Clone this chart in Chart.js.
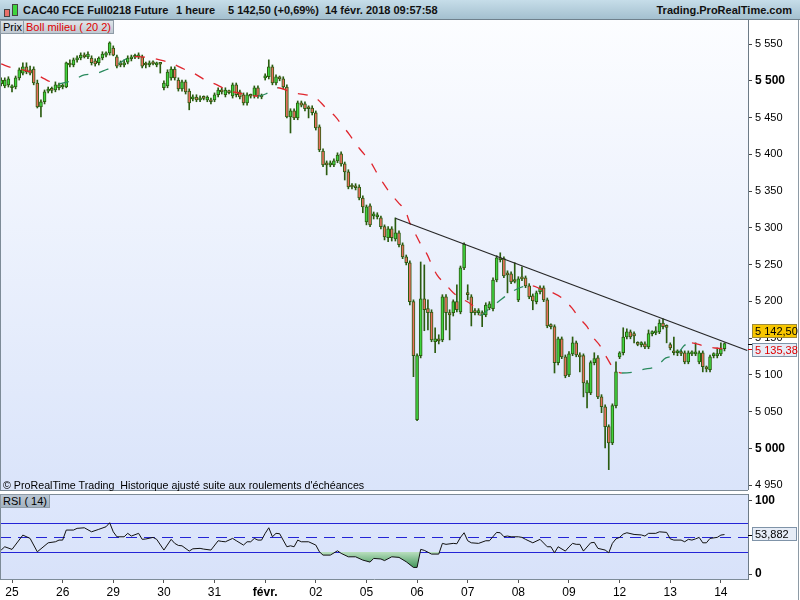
<!DOCTYPE html>
<html>
<head>
<meta charset="utf-8">
<script src="https://cdn.jsdelivr.net/npm/chart.js@4.4.1/dist/chart.umd.min.js"></script>
<style>
  body { margin: 0; width: 800px; height: 600px; overflow: hidden; background: #fff; position: relative;
         font-family: "Liberation Sans", Arial, sans-serif; }
  #hdr { position: absolute; left: 0; top: 0; width: 800px; height: 19px; background: linear-gradient(#c6dde9, #a4c0cf);
         border-bottom: 1px solid #6f808c; font-size: 11px; font-weight: bold; color: #111; }
  #hdr span { position: absolute; top: 4px; white-space: nowrap; }
  .ico { position: absolute; border: 1px solid #444; }
  canvas { position: absolute; left: 0; }
  #cPrice { top: 20px; }
  #cRsi { top: 490px; }
  #edge { position: absolute; left: 798px; top: 20px; width: 1px; height: 580px; background: #8e9ba6; }
  .tag { position: absolute; height: 12px; line-height: 12px; font-size: 11px; padding: 0 2px; white-space: nowrap;
         background: linear-gradient(#dfe5ea, #bfc8d1); border: 1px solid #8e9ba6; color: #000; }
  #foot { position: absolute; left: 3px; top: 479px; font-size: 10.7px; color: #000; white-space: nowrap; }
</style>
</head>
<body>
<div id="hdr">
  <div class="ico" style="left:4px;top:9px;width:4px;height:6px;background:#e8706a"></div>
  <div class="ico" style="left:12px;top:4px;width:4px;height:10px;background:#3ed43e"></div>
  <span style="left:23px">CAC40 FCE Full0218 Future</span>
  <span style="left:176px">1 heure</span>
  <span style="left:228px">5 142,50 (+0,69%)</span>
  <span style="left:325px">14 févr. 2018 09:57:58</span>
  <span style="right:8px">Trading.ProRealTime.com</span>
</div>
<canvas id="cPrice" width="800" height="470"></canvas>
<canvas id="cRsi" width="800" height="110"></canvas>
<div id="edge"></div>
<div class="tag" style="left:0;top:20px">Prix</div>
<div class="tag" style="left:23px;top:20px;color:#dd0000">Boll milieu ( 20 2)</div>
<div id="foot">© ProRealTime Trading&nbsp; Historique ajusté suite aux roulements d'échéances</div>
<div class="tag" style="left:0;top:494px;background:linear-gradient(#bcc8d4,#a3b2c1)">RSI ( 14)</div>
<script>
// bougies horaires, du 24/01 21h au 14/02 9h
const opens = [
  5496, 5493, 5494.5, 5490.5, 5491.5, 5504, 5510.5, 5519, 5515, 5516,
  5497, 5464.5, 5471.5, 5486, 5487.5, 5487.5, 5490.5, 5491.5, 5491.5, 5523,
  5521.5, 5528.5, 5531, 5535, 5532.5, 5531, 5527, 5524.5, 5531, 5535,
  5538, 5544.5, 5532.5, 5524.5, 5521.5, 5525.5, 5530, 5532.5, 5532.5, 5532.5,
  5523, 5521.5, 5524.5, 5521.5, 5523, 5490.5, 5493, 5504, 5516, 5501,
  5489, 5498.5, 5486, 5475.5, 5478, 5474, 5476.5, 5474, 5474, 5474,
  5481, 5487.5, 5481, 5485, 5479.5, 5494.5, 5485, 5481, 5470, 5479.5,
  5479.5, 5490.5, 5479.5, 5504, 5505.5, 5519, 5497, 5504, 5502.5, 5491.5,
  5451, 5459, 5449.5, 5470, 5468.5, 5463, 5463, 5456.5, 5437.5, 5404.5,
  5388.5, 5385.5, 5385.5, 5391, 5400.5, 5387, 5376, 5357, 5355.5, 5355.5,
  5340.5, 5308, 5330, 5316, 5315, 5313.5, 5301.5, 5286.5, 5298.5, 5285,
  5293, 5277, 5260.5, 5252.5, 5199.5, 5039, 5126, 5203.5, 5190, 5185.5,
  5145, 5149, 5147.5, 5206, 5184.5, 5184.5, 5199.5, 5185.5, 5245.5, 5211.5,
  5206, 5187, 5184.5, 5184.5, 5181.5, 5191, 5190, 5229, 5259, 5258,
  5238.5, 5237.5, 5228, 5202, 5232, 5232, 5221, 5207.5, 5199.5, 5213,
  5218.5, 5202, 5166.5, 5165.5, 5116.5, 5149, 5124.5, 5100, 5128.5, 5143.5,
  5127, 5126, 5075.5, 5075.5, 5116.5, 5123, 5070, 5056.5, 5029.5, 5007.5,
  5058, 5124.5, 5130, 5151.5, 5158.5, 5156, 5142, 5141, 5142, 5138,
  5156, 5157, 5158.5, 5170.5, 5165.5, 5141, 5131.5, 5130, 5130, 5130,
  5117.5, 5128.5, 5128.5, 5117.5, 5130, 5109.5, 5107, 5126, 5126, 5128.5,
  5135.5
];
const highs = [
  5504, 5504, 5505.5, 5494.5, 5506.5, 5517.5, 5524.5, 5524.5, 5520, 5519,
  5501, 5474, 5487.5, 5491.5, 5491.5, 5498.5, 5497, 5496, 5525.5, 5528.5,
  5531, 5534, 5538, 5538, 5539.5, 5534, 5530, 5532.5, 5539.5, 5539.5,
  5553, 5547.5, 5535, 5527, 5528.5, 5534, 5535, 5536.5, 5538, 5535,
  5525.5, 5527, 5527, 5525.5, 5524.5, 5500, 5515, 5519, 5519, 5504,
  5501, 5501, 5489, 5481, 5481, 5479.5, 5479.5, 5479.5, 5476.5, 5483.5,
  5490.5, 5490.5, 5490.5, 5487.5, 5497, 5497, 5487.5, 5483.5, 5483.5, 5482,
  5493, 5493, 5482, 5509.5, 5528.5, 5521.5, 5508, 5506.5, 5505.5, 5494.5,
  5462, 5462, 5472.5, 5472.5, 5471.5, 5466, 5466, 5459, 5440, 5407.5,
  5391, 5391, 5394, 5402, 5403.5, 5389.5, 5379, 5360, 5360, 5358.5,
  5343.5, 5331, 5332.5, 5321.5, 5320.5, 5316, 5304, 5301.5, 5301.5, 5313.5,
  5296, 5279.5, 5263, 5255, 5202, 5128.5, 5253.5, 5249.5, 5202, 5188.5,
  5164, 5154.5, 5209, 5209, 5188.5, 5202, 5222.5, 5248, 5279.5, 5222.5,
  5209, 5190, 5190, 5187, 5198, 5199.5, 5232, 5262, 5266, 5260.5,
  5241.5, 5240, 5252.5, 5233.5, 5247, 5234.5, 5224, 5210, 5214, 5221,
  5221, 5204.5, 5169.5, 5168, 5151.5, 5151.5, 5127, 5131.5, 5151.5, 5146,
  5130, 5128.5, 5092, 5119, 5130, 5126, 5073, 5059, 5032, 5060.5,
  5117.5, 5131.5, 5164, 5162.5, 5161, 5158.5, 5145, 5145, 5145, 5161,
  5160, 5165.5, 5175, 5176, 5168, 5143.5, 5151.5, 5134, 5134, 5132.5,
  5132.5, 5132.5, 5143.5, 5132.5, 5132.5, 5112, 5127, 5130, 5136.5, 5143.5,
  5143.5
];
const lows = [
  5493, 5490.5, 5491.5, 5485, 5489, 5501, 5508, 5509.5, 5508, 5494.5,
  5463, 5451, 5468.5, 5483.5, 5483.5, 5485, 5487.5, 5489, 5490.5, 5519,
  5519, 5525.5, 5528.5, 5531, 5530, 5521.5, 5520, 5521.5, 5528.5, 5532.5,
  5535, 5534, 5517.5, 5519, 5519, 5523, 5527, 5530, 5530, 5517.5,
  5517.5, 5519, 5521.5, 5519, 5510.5, 5487.5, 5490.5, 5501, 5501, 5486,
  5486, 5482, 5460.5, 5472.5, 5471.5, 5471.5, 5474, 5471.5, 5468.5, 5471.5,
  5478, 5482, 5478, 5482, 5476.5, 5478, 5475.5, 5467, 5467, 5476.5,
  5476.5, 5476.5, 5475.5, 5501, 5502.5, 5494.5, 5494.5, 5500, 5489, 5449.5,
  5429, 5447, 5447, 5464.5, 5459, 5449.5, 5453.5, 5433, 5403.5, 5383,
  5372, 5383, 5383, 5388.5, 5384, 5365, 5353, 5353, 5351.5, 5338,
  5320.5, 5304, 5301.5, 5312, 5312, 5298.5, 5283.5, 5281, 5282, 5282,
  5274, 5258, 5249.5, 5195, 5097.5, 5037.5, 5123, 5160, 5161, 5145,
  5130, 5142, 5145, 5161, 5147.5, 5180, 5185.5, 5183, 5243, 5202,
  5166.5, 5181.5, 5181.5, 5165.5, 5179, 5188.5, 5187, 5226.5, 5253.5, 5232,
  5211.5, 5224, 5225, 5199.5, 5228, 5218.5, 5203.5, 5188.5, 5196.5, 5210,
  5199.5, 5164, 5162.5, 5102.5, 5113.5, 5122, 5096, 5097.5, 5126, 5124.5,
  5104, 5070, 5055, 5073, 5113.5, 5067.5, 5048.5, 5000.5, 4971, 5005,
  5055, 5122, 5127, 5149, 5149, 5143.5, 5139.5, 5138, 5135.5, 5135.5,
  5153, 5154.5, 5156, 5162.5, 5143.5, 5134, 5127, 5126, 5126, 5115,
  5115, 5126, 5126, 5115, 5104, 5104, 5104, 5123, 5123, 5126,
  5132.5
];
const closes = [
  5501, 5501, 5502.5, 5491.5, 5504, 5515, 5519, 5512, 5510.5, 5497,
  5464.5, 5471.5, 5485, 5487.5, 5487, 5494.5, 5494.5, 5493, 5524.5, 5521.5,
  5528.5, 5531, 5535, 5532.5, 5536.5, 5524.5, 5523, 5531, 5536.5, 5538,
  5551.5, 5535, 5520, 5521.5, 5524.5, 5531, 5532.5, 5532, 5534, 5520,
  5521.5, 5524.5, 5523, 5524.5, 5522.5, 5497, 5512, 5516, 5504, 5489,
  5498.5, 5485, 5470, 5478, 5474, 5476.5, 5476, 5478, 5471.5, 5481,
  5487.5, 5485, 5487.5, 5484, 5494.5, 5481, 5478, 5470, 5481, 5479,
  5490.5, 5479.5, 5478, 5506.5, 5519, 5497, 5505.5, 5502.5, 5491.5, 5451,
  5459, 5449.5, 5470, 5467, 5462, 5462, 5456.5, 5436, 5406, 5385.5,
  5385.5, 5388.5, 5391, 5399, 5387, 5376, 5355.5, 5355.5, 5354.5, 5340.5,
  5328.5, 5328.5, 5304, 5319, 5317.5, 5301.5, 5287.5, 5298.5, 5286.5, 5293,
  5277, 5260.5, 5252.5, 5199.5, 5126, 5126, 5203.5, 5188.5, 5184.5, 5147.5,
  5149, 5146, 5206, 5184.5, 5181.5, 5199.5, 5188.5, 5245.5, 5278, 5209,
  5184.5, 5184.5, 5187, 5181.5, 5195, 5196.5, 5229, 5259, 5256.5, 5234.5,
  5236, 5226.5, 5227, 5230.5, 5230.5, 5221, 5206, 5200.5, 5211.5, 5218.5,
  5202, 5166.5, 5165.5, 5116.5, 5149, 5124.5, 5098.5, 5128.5, 5143.5, 5127,
  5124.5, 5089, 5089, 5116.5, 5122, 5070, 5056.5, 5029.5, 5007.5, 5058,
  5104, 5130, 5151.5, 5158.5, 5151.5, 5153, 5141.5, 5142, 5138, 5156,
  5157, 5158.5, 5170.5, 5165.5, 5164.5, 5136.5, 5130, 5131.5, 5129, 5117.5,
  5130, 5130, 5130, 5130, 5111, 5108, 5124.5, 5127, 5127, 5135.5,
  5142.5
];

// Boll milieu (moyenne 20)
const smaIdx = [0, 3, 6, 9, 12, 14, 16, 18, 20, 23, 26, 29, 32, 35, 37, 39, 42, 45, 47.5, 50.5,
  53.6, 56.4, 59.7, 62.4, 65.5, 68.3, 71, 73.8, 76.5, 80.7, 84.3, 87.3, 89.8, 92.3, 94.2, 96.2, 98.1, 100.3, 102.3, 103.9,
  105.6, 107.5, 109.7, 111.9, 113, 114.4, 115.8, 117.7, 119.1, 120.5, 123, 125, 127.4, 130.2, 132.5, 134.6, 138.5, 141.2, 144.3, 147,
  149, 152.6, 155.3, 157.8, 159.8, 162, 163.6, 165.6, 167.5, 169.2, 171.6, 175.2, 177.2, 181.3, 183.8, 186.8, 188.8, 191, 194, 197.4, 200];
const smaVal = [5523, 5517.5, 5515, 5510.5, 5502.5, 5498, 5496, 5498, 5501, 5508, 5509.5, 5515, 5521.5, 5531, 5533, 5532.5, 5530.5, 5527, 5523, 5516,
  5509.5, 5501, 5494.5, 5487.5, 5483.5, 5481, 5479, 5483.5, 5490.5, 5483.5, 5481, 5475.5, 5463, 5452, 5440, 5427.5, 5414, 5400.5, 5388.5, 5374.5,
  5361, 5347.5, 5335, 5321.5, 5306.5, 5293, 5279.5, 5264.5, 5249.5, 5236, 5222.5, 5211.5, 5203.5, 5195, 5181, 5188.5, 5203.5, 5213, 5220, 5221,
  5217, 5211.5, 5203.5, 5191, 5177.5, 5165.5, 5151.5, 5139.5, 5123, 5109.5, 5102.5, 5104, 5107, 5112, 5123, 5127, 5139.5, 5143.5, 5139.5, 5136.5, 5135.38];

// ligne de tendance
const trendIdx = [109, 206.3];
const trendVal = [5313, 5133];

// RSI 14
const rsiIdx = [0, 1, 3, 6, 8, 10, 13, 15, 16, 17, 18, 20, 21, 23, 25, 27, 29, 30, 31, 32,
  34, 35, 36, 38, 39, 40, 42, 43, 45, 47, 48, 49, 50, 52, 53, 55, 56, 58, 60, 61,
  62, 64, 65, 67, 68, 69, 70, 71, 72, 73, 74, 75, 76, 77, 79, 80, 81, 82, 83, 85,
  87, 88, 89, 91, 93, 94, 96, 98, 100, 102, 103, 105, 106, 108, 110, 112, 114, 115, 116, 117,
  119, 121, 122, 123, 125, 126, 127, 128, 129, 130, 132, 134, 135, 137, 138, 139, 140, 141, 143, 144,
  145, 147, 149, 151, 152, 153, 154, 156, 157, 158, 159, 160, 161, 163, 164, 165, 167, 168, 169, 170,
  171, 172, 173, 175, 177, 178, 179, 181, 182, 184, 185, 186, 188, 189, 190, 191, 192, 193, 194, 195,
  196, 198, 199, 200];
const rsiVal = [32.7, 37.2, 33.6, 53.1, 48.6, 30.3, 42.6, 44, 46.3, 46.3, 60, 60, 62.3, 63.1, 57.6, 61, 64.5, 70, 57.6, 50.8,
  50.8, 55.5, 51.8, 55.5, 47.3, 47.8, 50, 47.3, 32.7, 47.3, 41.8, 39, 38.5, 31.3, 34.4, 35, 34, 32.7, 45.4, 44.5,
  44, 48.6, 45.5, 39.5, 44, 44, 48.6, 46.3, 46.3, 55.5, 63.1, 50.8, 55.5, 55, 37.2, 38.5, 37.2, 46.3, 44, 44,
  39.5, 30.3, 25.8, 25.8, 31.7, 28.2, 23.5, 23.5, 19, 16.3, 21.3, 20.5, 18.3, 23.5, 22.7, 16.7, 9, 9, 33.6, 32.3,
  27.2, 27.2, 41.8, 40.5, 41.8, 41.3, 50, 56.3, 45.4, 42.6, 41.8, 45.4, 45.4, 56.8, 56.3, 51, 51.8, 50.8, 50.8, 50,
  47.3, 42.6, 47.3, 37.2, 37.2, 29, 37.2, 31.3, 37, 41.8, 40.5, 40.5, 31.3, 42.6, 43.2, 35, 32.7, 29, 41.8, 48,
  50, 54.5, 56.3, 54, 53.3, 51.8, 55.5, 55.5, 57.6, 56.8, 48, 46.3, 46.3, 44, 47.3, 46.3, 48, 50, 42.6, 42.6,
  48.6, 50, 53.1, 53.882];

const dayStarts = [3, 17, 31, 45, 59, 73, 87, 101, 115, 129, 143, 157, 171, 185, 199];
const dayLabels = ['25', '26', '29', '30', '31', 'févr.', '02', '05', '06', '07', '08', '09', '12', '13', '14'];
const priceTicks = [4950, 5000, 5050, 5100, 5150, 5200, 5250, 5300, 5350, 5400, 5450, 5500, 5550];
const rsiLevels = [70, 50, 30];

const FONT = '"Liberation Sans", Arial, sans-serif';
Chart.defaults.font.family = FONT;

const X_MIN = -0.32, X_MAX = 206.5;
const fmtPrice = v => String(v).replace(/\B(?=(\d{3})+(?!\d))/g, ' ');
const fmtDec = v => {
  const [a, b] = v.toFixed(2).split('.');
  return fmtPrice(a) + ',' + b;
};
const WICK = '#2b5c10';

function valueBox(ctx, x, yc, text, bg, border, color) {
  ctx.font = '11px ' + FONT;
  ctx.fillStyle = bg;
  ctx.fillRect(x, yc - 7, 45, 14);
  ctx.strokeStyle = border;
  ctx.lineWidth = 1;
  ctx.strokeRect(x + 0.5, yc - 6.5, 44, 13);
  ctx.fillStyle = color;
  ctx.textBaseline = 'middle';
  ctx.textAlign = 'left';
  ctx.fillText(text, x + 3, yc + 0.5);
}

const pricePanel = {
  id: 'pricePanel',
  beforeDraw(chart) {
    const {ctx, chartArea: a, width, height} = chart;
    ctx.save();
    ctx.fillStyle = '#fff';
    ctx.fillRect(0, 0, width, height);
    const g = ctx.createLinearGradient(0, a.top, 0, a.bottom);
    g.addColorStop(0, '#fcfdff');
    g.addColorStop(1, '#dae4fa');
    ctx.fillStyle = g;
    ctx.fillRect(a.left, a.top, a.right - a.left, a.bottom - a.top);
    ctx.restore();
  },
  afterDraw(chart) {
    const {ctx, chartArea: a} = chart;
    const y = chart.scales.y;
    ctx.save();
    ctx.strokeStyle = '#7d8b97';
    ctx.lineWidth = 1;
    ctx.beginPath();
    ctx.moveTo(0.5, a.top); ctx.lineTo(0.5, a.bottom);
    ctx.stroke();
    const last = closes[closes.length - 1];
    const lastSma = smaVal[smaVal.length - 1];
    const pc = y.getPixelForValue(last);
    const ps = y.getPixelForValue(lastSma);
    ctx.beginPath();
    ctx.strokeStyle = '#000';
    ctx.moveTo(a.right, Math.round(pc) + 0.5); ctx.lineTo(a.right + 5, Math.round(pc) + 0.5);
    ctx.stroke();
    ctx.beginPath();
    ctx.strokeStyle = '#e00000';
    ctx.moveTo(a.right, Math.round(ps) + 0.5); ctx.lineTo(a.right + 5, Math.round(ps) + 0.5);
    ctx.stroke();
    valueBox(ctx, a.right + 4, Math.round(pc - 12.5), fmtDec(last), '#f7c600', '#9c8a3a', '#000');
    valueBox(ctx, a.right + 4, Math.round(ps + 1.5), fmtDec(lastSma), '#e6ecf6', '#7f93a8', '#e00000');
    ctx.restore();
  }
};

new Chart(document.getElementById('cPrice'), {
  type: 'bar',
  data: {
    datasets: [
      {
        type: 'line',
        data: trendIdx.map((x, i) => ({x, y: trendVal[i]})),
        borderColor: '#262626', borderWidth: 1.2, pointRadius: 0, order: 0
      },
      {
        type: 'line',
        data: smaIdx.map((x, i) => ({x, y: smaVal[i]})),
        borderWidth: 1.3, borderDash: [10, 11], pointRadius: 0,
        cubicInterpolationMode: 'monotone',
        borderColor: '#e0262e',
        segment: {
          borderColor: c => c.p1.parsed.y >= c.p0.parsed.y ? '#2a8a5e' : '#e0262e'
        },
        order: 1
      },
      {
        data: opens.map((o, i) => ({x: i, y: [lows[i], highs[i]]})),
        backgroundColor: WICK, barThickness: 1, grouped: false, order: 3
      },
      {
        data: opens.map((o, i) => ({x: i, y: [o, closes[i]]})),
        backgroundColor: opens.map((o, i) => closes[i] >= o ? '#3fd33f' : '#e8705e'),
        borderColor: WICK, borderWidth: 1, borderSkipped: false,
        barThickness: 3, minBarLength: 2, grouped: false, order: 2
      }
    ]
  },
  options: {
    responsive: false, animation: false, events: [],
    layout: {padding: 0},
    plugins: {legend: {display: false}, tooltip: {enabled: false}},
    scales: {
      x: {type: 'linear', min: X_MIN, max: X_MAX, display: false, offset: false},
      y: {
        position: 'right', min: 4943.3, max: 5582.7,
        afterBuildTicks: s => { s.ticks = priceTicks.map(v => ({value: v})); },
        afterFit: s => { s.width = 52; s.paddingTop = 0; s.paddingBottom = 0; },
        ticks: {
          padding: 3, color: '#000',
          callback: v => fmtPrice(v),
          font: c => (c.tick && c.tick.value % 500 === 0)
            ? {size: 12, weight: 'bold', family: FONT} : {size: 11, family: FONT}
        },
        grid: {drawOnChartArea: false, tickLength: 4, color: '#444'},
        border: {color: '#6d7b87'}
      }
    }
  },
  plugins: [pricePanel]
});

const rsiPanel = {
  id: 'rsiPanel',
  beforeDraw(chart) {
    const {ctx, chartArea: a, width, height} = chart;
    ctx.save();
    ctx.fillStyle = '#fff';
    ctx.fillRect(0, 0, width, height);
    ctx.fillStyle = '#7d8b97';
    ctx.fillRect(0, 0, a.right, 1);
    const g = ctx.createLinearGradient(0, a.top, 0, a.bottom);
    g.addColorStop(0, '#dee7fc');
    g.addColorStop(1, '#d8e2f9');
    ctx.fillStyle = g;
    ctx.fillRect(a.left, a.top, a.right - a.left, a.bottom - a.top);
    ctx.restore();
  },
  beforeDatasetsDraw(chart) {
    const {ctx, chartArea: a} = chart;
    const y = chart.scales.y;
    ctx.save();
    ctx.strokeStyle = '#2424d6';
    ctx.lineWidth = 1;
    rsiLevels.forEach(v => {
      const py = Math.round(y.getPixelForValue(v)) + 0.5;
      ctx.setLineDash(v === 50 ? [11, 7] : []);
      ctx.beginPath();
      ctx.moveTo(a.left, py); ctx.lineTo(a.right, py);
      ctx.stroke();
    });
    ctx.restore();
  },
  afterDraw(chart) {
    const {ctx, chartArea: a} = chart;
    const y = chart.scales.y;
    ctx.save();
    ctx.strokeStyle = '#7d8b97';
    ctx.lineWidth = 1;
    ctx.beginPath();
    ctx.moveTo(0.5, a.top); ctx.lineTo(0.5, a.bottom);
    ctx.moveTo(0, a.top + 0.5); ctx.lineTo(a.right, a.top + 0.5);
    ctx.stroke();
    const last = rsiVal[rsiVal.length - 1];
    const py = y.getPixelForValue(last);
    ctx.beginPath();
    ctx.strokeStyle = '#000';
    ctx.moveTo(a.right, Math.round(py) + 0.5); ctx.lineTo(a.right + 5, Math.round(py) + 0.5);
    ctx.stroke();
    valueBox(ctx, a.right + 4, Math.round(py - 1), String(last).replace('.', ','), '#e6ecf6', '#7f93a8', '#000');
    ctx.restore();
  }
};

new Chart(document.getElementById('cRsi'), {
  type: 'line',
  data: {
    datasets: [{
      data: rsiIdx.map((x, i) => ({x, y: rsiVal[i]})),
      borderColor: '#111', borderWidth: 1, pointRadius: 0, tension: 0,
      fill: {target: {value: 30}, above: 'rgba(0,0,0,0)'},
      backgroundColor: c => {
        const ch = c.chart;
        if (!ch.chartArea) return 'rgba(60,150,90,0.6)';
        const y = ch.scales.y;
        const g = ch.ctx.createLinearGradient(0, y.getPixelForValue(30), 0, y.getPixelForValue(5));
        g.addColorStop(0, '#b9dfbe');
        g.addColorStop(1, '#2c8848');
        return g;
      }
    }]
  },
  options: {
    responsive: false, animation: false, events: [],
    layout: {padding: {top: 4}},
    plugins: {legend: {display: false}, tooltip: {enabled: false}},
    scales: {
      x: {
        type: 'linear', min: X_MIN, max: X_MAX, offset: false,
        afterBuildTicks: s => { s.ticks = dayStarts.map(v => ({value: v})); },
        afterFit: s => { s.height = 21; s.paddingLeft = 0; s.paddingRight = 0; },
        ticks: {
          autoSkip: false, maxRotation: 0, padding: 2, color: '#000',
          callback: (v, i) => dayLabels[i],
          font: c => (c.index === 5) ? {size: 12, weight: 'bold', family: FONT} : {size: 12, family: FONT}
        },
        grid: {drawOnChartArea: false, tickLength: 4, color: '#555'},
        border: {color: '#7d8b97'}
      },
      y: {
        position: 'right', min: -6.8, max: 109.2,
        afterBuildTicks: s => { s.ticks = [0, 100].map(v => ({value: v})); },
        afterFit: s => { s.width = 52; s.paddingTop = 0; s.paddingBottom = 0; },
        ticks: {padding: 3, color: '#000', font: {size: 12, weight: 'bold'}},
        grid: {drawOnChartArea: false, tickLength: 4, color: '#444'},
        border: {color: '#6d7b87'}
      }
    }
  },
  plugins: [rsiPanel]
});
</script>
</body>
</html>
